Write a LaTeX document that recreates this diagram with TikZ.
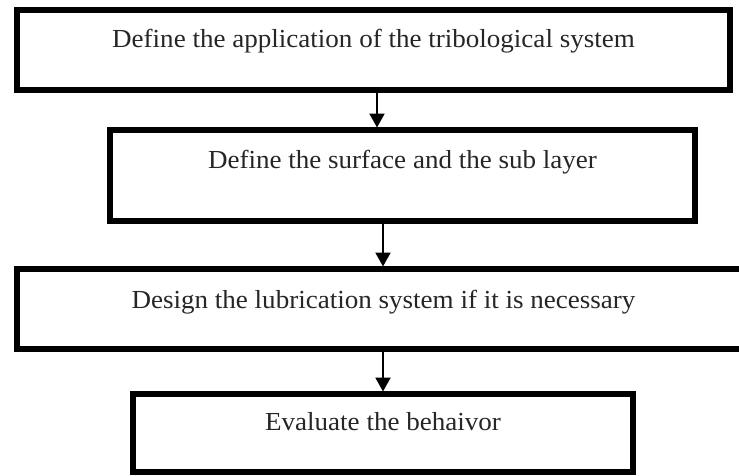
\documentclass[tikz,border=0pt]{standalone}
\usepackage{fontspec}
\setmainfont{Liberation Serif}[FakeStretch=1.04]
\usetikzlibrary{arrows.meta}
\begin{document}
\begin{tikzpicture}[x=1pt,y=-1pt,
  stepbox/.style={draw=black,line width=5.5pt,rectangle,inner sep=0pt,outer sep=0pt,
    font=\fontsize{26}{30}\selectfont,text=black!85},
  flowarrow/.style={draw=black,line width=2.2pt,-{Triangle[width=15pt,length=14pt]},shorten >=2.5pt,shorten <=2.5pt}]
\useasboundingbox[fill=white] (0,0) rectangle (739,475);
\node[stepbox,minimum width=713pt,text height=37pt,text depth=43pt] (b1) at (373.5,50) {Define the application of the tribological system};
\node[stepbox,minimum width=585pt,text height=38pt,text depth=53pt] (b2) at (402.5,175.5) {Define the surface and the sub layer};
\node[stepbox,minimum width=733pt,text height=39pt,text depth=41pt] (b3) at (383.5,309) {Design the lubrication system if it is necessary};
\node[stepbox,minimum width=500pt,text height=36pt,text depth=42pt] (b4) at (383,433) {Evaluate the behaivor};
\coordinate (c1) at (377,0);
\coordinate (c2) at (383,0);
\coordinate (c3) at (383,0);
\draw[flowarrow] (b1.south -| c1) -- (b2.north -| c1);
\draw[flowarrow] (b2.south -| c2) -- (b3.north -| c2);
\draw[flowarrow] (b3.south -| c3) -- (b4.north -| c3);
\end{tikzpicture}
\end{document}
